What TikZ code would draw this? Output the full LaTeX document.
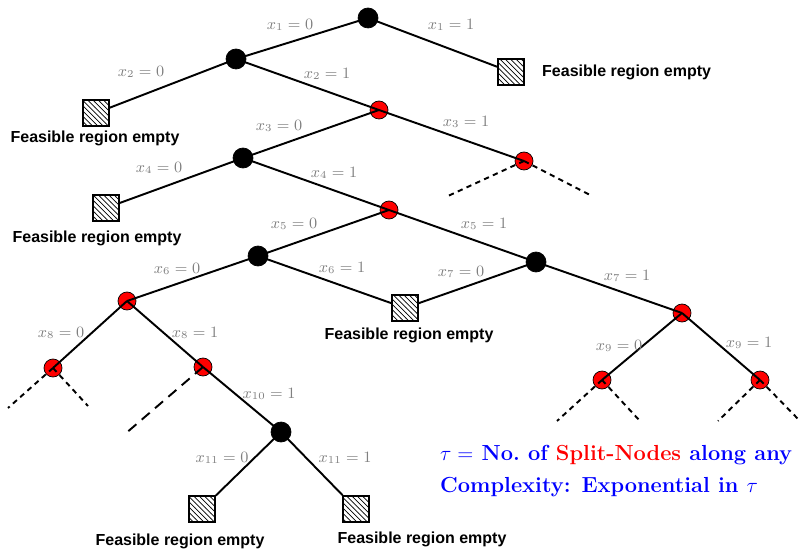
\documentclass[tikz,border=0pt]{standalone}
\usepackage{fontspec}
\newfontfamily\labelfont{Liberation Sans}
\usetikzlibrary{patterns}

\tikzset{
  split/.style={draw, circle, fill=red, inner sep=0pt, minimum size=0.36cm},
  plain/.style={draw, circle, fill=black, inner sep=0pt, minimum size=0.4cm},
  empty/.style={draw, line width=1.1pt, pattern=north west lines, inner sep=0pt, minimum size=0.51cm},
  edge/.style={line width=1.1pt},
  stub/.style={line width=1.1pt, dash pattern=on 3pt off 2.5pt},
  val/.style={text=gray, font=\small},
  note/.style={font=\labelfont\bfseries\fontsize{9.1}{11}\selectfont},
  remark/.style={anchor=west, text=blue, font=\bfseries\fontsize{12.4}{14}\selectfont},
}

\begin{document}
\begin{tikzpicture}[x=0.02cm, y=-0.02cm]
    \useasboundingbox (0, 0) rectangle (803, 550);

    % nodes of the tree
    \node[plain] (root) at (368, 18) {};
    \node[empty] (e1) at (511, 72) {};
    \node[plain] (n2) at (236, 59) {};
    \node[empty] (e2) at (96, 113) {};
    \node[split] (s3) at (379, 110) {};
    \node[plain] (n4) at (243, 158) {};
    \node[split] (s3b) at (524, 161) {};
    \node[empty] (e4) at (106, 208) {};
    \node[split] (s5) at (389, 210) {};
    \node[plain] (n6) at (258, 256) {};
    \node[plain] (n7) at (536, 262) {};
    \node[split] (s8) at (127, 301) {};
    \node[empty] (e6) at (405, 308) {};
    \node[split] (s9) at (682, 313) {};
    \node[split] (s8a) at (53, 368) {};
    \node[split] (s8b) at (203, 367) {};
    \node[plain] (n10) at (281, 432) {};
    \node[empty] (e11a) at (202, 509) {};
    \node[empty] (e11b) at (356, 509) {};
    \node[split] (s9a) at (602, 380) {};
    \node[split] (s9b) at (760, 380) {};

    % branches
    \draw[edge] (root.center) -- (n2.center);
    \draw[edge] (root.center) -- (e1);
    \draw[edge] (n2.center) -- (e2);
    \draw[edge] (n2.center) -- (s3.center);
    \draw[edge] (s3.center) -- (n4.center);
    \draw[edge] (s3.center) -- (s3b.center);
    \draw[edge] (n4.center) -- (e4);
    \draw[edge] (n4.center) -- (s5.center);
    \draw[edge] (s5.center) -- (n6.center);
    \draw[edge] (s5.center) -- (n7.center);
    \draw[edge] (n6.center) -- (s8.center);
    \draw[edge] (n6.center) -- (e6);
    \draw[edge] (n7.center) -- (e6);
    \draw[edge] (n7.center) -- (s9.center);
    \draw[edge] (s8.center) -- (s8a.center);
    \draw[edge] (s8.center) -- (s8b.center);
    \draw[edge] (s8b.center) -- (n10.center);
    \draw[edge] (n10.center) -- (e11a);
    \draw[edge] (n10.center) -- (e11b);
    \draw[edge] (s9.center) -- (s9a.center);
    \draw[edge] (s9.center) -- (s9b.center);

    % open subtrees
    \coordinate (t3l) at (448, 196);
    \coordinate (t3r) at (592, 196);
    \coordinate (t8l) at (8, 408);
    \coordinate (t8r) at (88, 406);
    \coordinate (t8b) at (125, 434);
    \coordinate (t9al) at (557, 421);
    \coordinate (t9ar) at (640, 421);
    \coordinate (t9bl) at (718, 421);
    \coordinate (t9br) at (800, 421);
    \draw[stub] (s3b.center) -- (t3l);
    \draw[stub] (s3b.center) -- (t3r);
    \draw[stub] (s8a.center) -- (t8l);
    \draw[stub] (s8a.center) -- (t8r);
    \draw[stub, dash pattern=on 6pt off 4pt] (s8b.center) -- (t8b);
    \draw[stub] (s9a.center) -- (t9al);
    \draw[stub] (s9a.center) -- (t9ar);
    \draw[stub] (s9b.center) -- (t9bl);
    \draw[stub] (s9b.center) -- (t9br);

    % branch values
    \node[val] (v1a) at (290, 25) {$x_1 = 0$};
    \node[val] (v1b) at (451, 25) {$x_1 = 1$};
    \node[val] (v2a) at (141, 72) {$x_2 = 0$};
    \node[val] (v2b) at (327, 74) {$x_2 = 1$};
    \node[val] (v3a) at (279, 126) {$x_3 = 0$};
    \node[val] (v3b) at (466, 122) {$x_3 = 1$};
    \node[val] (v4a) at (159, 168) {$x_4 = 0$};
    \node[val] (v4b) at (334, 173) {$x_4 = 1$};
    \node[val] (v5a) at (294, 224) {$x_5 = 0$};
    \node[val] (v5b) at (484, 224) {$x_5 = 1$};
    \node[val] (v6a) at (177, 269) {$x_6 = 0$};
    \node[val] (v6b) at (342, 268) {$x_6 = 1$};
    \node[val] (v7a) at (461, 272) {$x_7 = 0$};
    \node[val] (v7b) at (627, 276) {$x_7 = 1$};
    \node[val] (v8a) at (61, 333) {$x_8 = 0$};
    \node[val] (v8b) at (195, 333) {$x_8 = 1$};
    \node[val] (v9a) at (619, 346) {$x_9 = 0$};
    \node[val] (v9b) at (749, 343) {$x_9 = 1$};
    \node[val] (v10) at (269, 394) {$x_{10} = 1$};
    \node[val] (v11a) at (222, 458) {$x_{11} = 0$};
    \node[val] (v11b) at (345, 458) {$x_{11} = 1$};

    % empty leaves
    \node[note, anchor=west] (f1) at (536, 72) {Feasible region empty};
    \node[note] (f2) at (95, 138) {Feasible region empty};
    \node[note] (f4) at (97, 238) {Feasible region empty};
    \node[note] (f6) at (409, 335) {Feasible region empty};
    \node[note] (f11a) at (180, 541) {Feasible region empty};
    \node[note] (f11b) at (422, 539) {Feasible region empty};

    % remarks
    \node[remark] (tau) at (434, 455)
        {$\tau =$ No.\ of \textcolor{red}{Split-Nodes} along any};
    \node[remark] (cx) at (434, 487)
        {Complexity: Exponential in $\tau$};
\end{tikzpicture}
\end{document}
